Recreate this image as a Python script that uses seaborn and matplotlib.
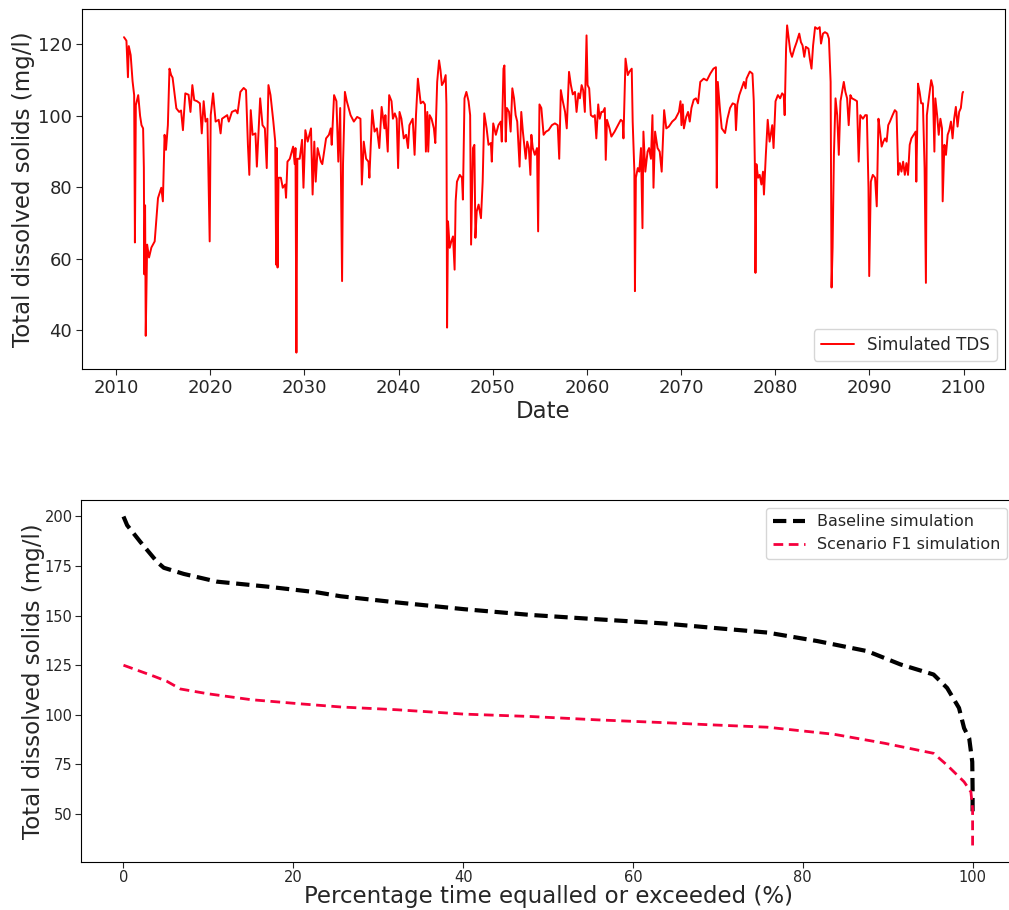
import numpy as np
import pandas as pd
import matplotlib
matplotlib.use("Agg")
import matplotlib.pyplot as plt
import seaborn as sns

# ---- simulated TDS time series (decimal year, mg/l) ----
years = [
    2010.84, 2011.1, 2011.26, 2011.35, 2011.55, 2011.75, 2011.92, 2012.0, 2012.1, 2012.35,
    2012.55, 2012.7, 2012.87, 2012.95, 2013.0, 2013.08, 2013.15, 2013.3, 2013.5, 2013.75,
    2014.1, 2014.45, 2014.8, 2014.97, 2015.15, 2015.3, 2015.5, 2015.67, 2015.85, 2016.0,
    2016.4, 2016.7, 2016.9, 2017.1, 2017.35, 2017.7, 2017.9, 2018.1, 2018.3, 2018.6,
    2018.9, 2019.1, 2019.3, 2019.5, 2019.7, 2019.94, 2020.05, 2020.3, 2020.57, 2020.9,
    2021.1, 2021.25, 2021.8, 2021.97, 2022.3, 2022.7, 2022.9, 2023.2, 2023.55, 2023.8,
    2024.0, 2024.15, 2024.3, 2024.5, 2024.8, 2024.95, 2025.3, 2025.55, 2025.8, 2026.0,
    2026.18, 2026.4, 2026.7, 2026.9, 2027.0, 2027.07, 2027.15, 2027.25, 2027.5, 2027.7,
    2027.95, 2028.05, 2028.2, 2028.45, 2028.8, 2028.97, 2029.05, 2029.15, 2029.25, 2029.5,
    2029.75, 2029.9, 2030.1, 2030.35, 2030.7, 2030.87, 2031.05, 2031.2, 2031.4, 2031.75,
    2031.9, 2032.3, 2032.6, 2032.8, 2032.9, 2033.15, 2033.4, 2033.6, 2033.8, 2034.0,
    2034.1, 2034.3, 2034.5, 2034.9, 2035.25, 2035.6, 2035.95, 2036.1, 2036.3, 2036.55,
    2036.8, 2036.9, 2037.2, 2037.45, 2037.7, 2037.95, 2038.2, 2038.5, 2038.6, 2038.85,
    2039.0, 2039.25, 2039.4, 2039.6, 2039.8, 2039.95, 2040.1, 2040.3, 2040.55, 2040.8,
    2041.0, 2041.15, 2041.5, 2041.7, 2041.85, 2042.05, 2042.35, 2042.6, 2042.8, 2042.9,
    2043.05, 2043.15, 2043.3, 2043.5, 2043.75, 2043.9, 2044.1, 2044.3, 2044.45, 2044.6,
    2044.8, 2045.0, 2045.08, 2045.15, 2045.25, 2045.43, 2045.6, 2045.78, 2045.95, 2046.06,
    2046.2, 2046.5, 2046.73, 2046.83, 2047.0, 2047.2, 2047.43, 2047.6, 2047.7, 2047.9,
    2048.05, 2048.16, 2048.3, 2048.5, 2048.75, 2048.93, 2049.1, 2049.35, 2049.55, 2049.8,
    2049.9, 2050.05, 2050.33, 2050.6, 2050.85, 2050.96, 2051.14, 2051.24, 2051.38, 2051.5,
    2051.73, 2051.9, 2052.08, 2052.26, 2052.43, 2052.6, 2052.85, 2053.03, 2053.2, 2053.5,
    2053.66, 2053.83, 2054.0, 2054.1, 2054.25, 2054.47, 2054.7, 2054.82, 2054.96, 2055.16,
    2055.4, 2055.66, 2055.93, 2056.28, 2056.6, 2056.9, 2057.06, 2057.23, 2057.44, 2057.68,
    2057.86, 2058.1, 2058.3, 2058.5, 2058.73, 2058.9, 2059.1, 2059.26, 2059.44, 2059.6,
    2059.78, 2059.96, 2060.07, 2060.24, 2060.42, 2060.66, 2060.84, 2061.0, 2061.2, 2061.36,
    2061.54, 2061.7, 2061.9, 2062.0, 2062.13, 2062.4, 2062.6, 2062.94, 2063.3, 2063.6,
    2063.8, 2063.88, 2064.1, 2064.34, 2064.5, 2064.76, 2064.86, 2065.04, 2065.1, 2065.2,
    2065.4, 2065.56, 2065.74, 2065.9, 2066.0, 2066.2, 2066.44, 2066.6, 2066.8, 2066.96,
    2067.07, 2067.24, 2067.5, 2067.73, 2067.94, 2068.2, 2068.43, 2068.7, 2069.06, 2069.4,
    2069.77, 2069.94, 2070.04, 2070.18, 2070.3, 2070.54, 2070.74, 2070.92, 2071.1, 2071.34,
    2071.58, 2071.8, 2072.04, 2072.4, 2072.74, 2073.1, 2073.44, 2073.7, 2073.79, 2073.9,
    2074.15, 2074.32, 2074.67, 2074.92, 2075.2, 2075.48, 2075.73, 2075.83, 2075.97, 2076.18,
    2076.43, 2076.67, 2076.85, 2076.95, 2077.13, 2077.3, 2077.58, 2077.72, 2077.83, 2077.9,
    2078.0, 2078.18, 2078.35, 2078.53, 2078.7, 2078.8, 2079.0, 2079.2, 2079.4, 2079.68,
    2079.82, 2080.03, 2080.28, 2080.52, 2080.73, 2080.9, 2081.0, 2081.15, 2081.26, 2081.43,
    2081.6, 2081.78, 2082.03, 2082.27, 2082.55, 2082.73, 2082.9, 2083.08, 2083.25, 2083.53,
    2083.67, 2083.85, 2084.02, 2084.23, 2084.48, 2084.72, 2084.86, 2085.07, 2085.28, 2085.53,
    2085.7, 2085.88, 2085.98, 2086.09, 2086.23, 2086.4, 2086.58, 2086.75, 2086.93, 2087.1,
    2087.28, 2087.45, 2087.63, 2087.8, 2087.98, 2088.15, 2088.44, 2088.68, 2088.86, 2089.03,
    2089.31, 2089.56, 2089.73, 2089.9, 2089.98, 2090.15, 2090.36, 2090.6, 2090.78, 2090.96,
    2091.13, 2091.3, 2091.48, 2091.66, 2091.83, 2092.0, 2092.18, 2092.46, 2092.7, 2092.88,
    2093.06, 2093.23, 2093.4, 2093.58, 2093.76, 2093.93, 2094.1, 2094.28, 2094.46, 2094.7,
    2094.91, 2094.98, 2095.16, 2095.33, 2095.5, 2095.68, 2095.86, 2096.0, 2096.1, 2096.31,
    2096.56, 2096.73, 2096.9, 2097.0, 2097.19, 2097.36, 2097.54, 2097.71, 2097.78, 2097.96,
    2098.13, 2098.31, 2098.48, 2098.66, 2098.83, 2099.0, 2099.18, 2099.36, 2099.53, 2099.71,
    2099.88, 2099.95,
]
tds = [
    122.0, 121.0, 110.8, 119.5, 117.0, 109.7, 105.8, 64.6, 103.0, 105.8,
    100.0, 97.4, 96.5, 85.5, 55.7, 75.0, 38.5, 64.0, 60.4, 63.2,
    64.9, 77.0, 79.9, 76.1, 94.7, 90.5, 97.4, 113.2, 111.4, 110.7,
    102.1, 101.1, 101.5, 96.0, 106.3, 105.9, 101.1, 108.6, 104.4, 104.1,
    103.5, 95.1, 104.1, 98.4, 99.2, 64.9, 100.2, 106.3, 98.4, 98.9,
    95.1, 99.2, 100.2, 98.4, 101.1, 101.6, 100.7, 106.7, 107.8, 107.2,
    91.9, 83.5, 101.6, 94.7, 95.1, 85.8, 104.9, 97.4, 96.5, 85.4,
    108.6, 105.8, 98.4, 92.8, 58.4, 91.0, 57.6, 82.7, 82.7, 79.9,
    80.8, 77.1, 87.2, 88.0, 91.4, 86.5, 91.0, 33.8, 88.0, 88.0,
    93.3, 79.9, 96.0, 92.8, 96.5, 78.0, 92.8, 81.6, 91.0, 87.2,
    86.5, 93.7, 94.7, 96.5, 91.9, 105.8, 104.1, 87.2, 102.2, 53.8,
    86.5, 106.7, 104.1, 100.2, 98.4, 99.7, 99.2, 80.8, 92.8, 88.0,
    87.2, 82.7, 101.6, 95.6, 96.5, 91.0, 102.5, 96.5, 100.2, 90.0,
    105.8, 104.1, 99.2, 100.7, 99.2, 85.4, 101.1, 99.2, 93.7, 94.7,
    91.0, 97.4, 99.2, 89.1, 100.2, 110.4, 103.5, 104.0, 103.2, 90.0,
    101.1, 90.0, 100.2, 99.2, 96.5, 92.4, 109.5, 115.5, 112.8, 108.6,
    109.5, 111.4, 103.2, 40.8, 70.5, 63.1, 64.9, 66.3, 57.0, 76.1,
    81.6, 83.5, 82.7, 76.6, 104.9, 106.7, 104.1, 100.2, 64.0, 91.0,
    91.9, 65.9, 73.3, 75.2, 71.4, 81.6, 100.7, 96.5, 91.9, 92.4,
    87.2, 97.9, 94.7, 97.4, 98.4, 92.8, 113.2, 114.1, 92.8, 102.2,
    101.1, 95.6, 107.7, 104.9, 100.2, 98.4, 85.8, 101.1, 95.6, 88.0,
    92.8, 91.0, 83.5, 94.7, 91.0, 89.1, 91.0, 67.7, 103.2, 102.2,
    94.7, 95.6, 96.0, 97.4, 97.9, 97.4, 88.0, 107.2, 104.1, 101.1,
    96.5, 112.3, 108.6, 106.0, 106.7, 101.1, 106.3, 104.9, 108.6, 107.2,
    101.1, 122.5, 108.6, 107.7, 100.2, 99.7, 100.2, 93.7, 103.2, 99.2,
    101.1, 101.1, 102.2, 87.7, 98.9, 96.5, 94.2, 95.6, 97.4, 98.9,
    98.4, 93.7, 116.0, 111.4, 112.3, 113.2, 98.4, 84.4, 51.0, 82.7,
    85.4, 84.4, 91.0, 68.6, 95.6, 84.4, 90.0, 91.0, 88.0, 100.2,
    79.9, 95.6, 91.0, 90.0, 84.4, 101.6, 96.5, 97.0, 98.4, 99.2,
    101.1, 104.1, 97.4, 103.2, 96.5, 99.7, 101.1, 98.4, 102.2, 104.5,
    104.9, 103.5, 109.5, 110.4, 109.9, 111.8, 113.2, 113.6, 79.9, 109.5,
    101.1, 96.5, 95.2, 99.2, 102.2, 103.5, 103.2, 96.0, 103.2, 105.8,
    107.7, 109.5, 107.7, 110.4, 111.4, 112.4, 111.8, 104.1, 87.2, 56.1,
    86.5, 82.7, 83.5, 80.8, 84.4, 78.0, 89.1, 98.9, 92.8, 97.4,
    91.0, 104.1, 105.8, 104.9, 106.3, 105.8, 100.2, 118.8, 125.3, 121.6,
    118.0, 116.5, 118.8, 120.6, 123.0, 120.6, 119.7, 116.5, 119.3, 118.8,
    116.0, 113.2, 119.7, 124.8, 124.3, 124.8, 120.2, 123.0, 123.4, 123.0,
    121.6, 109.5, 52.0, 63.1, 89.1, 104.9, 100.2, 89.1, 104.1, 106.7,
    109.5, 106.7, 104.9, 97.4, 105.8, 104.9, 104.5, 104.1, 87.2, 100.2,
    99.2, 100.2, 100.2, 79.9, 55.2, 81.6, 83.5, 82.7, 74.7, 99.2,
    95.6, 91.4, 92.8, 93.7, 92.8, 97.4, 98.4, 100.2, 101.6, 101.1,
    83.5, 86.8, 84.4, 87.2, 83.5, 86.8, 83.5, 91.9, 93.7, 94.7,
    95.6, 81.6, 109.0, 106.7, 103.5, 103.5, 85.4, 53.3, 100.2, 104.9,
    110.0, 108.1, 90.0, 104.9, 100.2, 94.7, 99.2, 96.5, 76.1, 91.9,
    89.1, 94.7, 96.0, 98.4, 93.7, 99.2, 102.5, 97.0, 101.1, 102.2,
    106.3, 106.7,
]

# ---- duration curves (percent of time equalled or exceeded, mg/l) ----
baseline_pct = [0.0, 0.43, 2.0, 3.97, 4.75, 7.1, 11.0, 16.9, 22.8, 25.6, 32.2, 40.1,
                47.9, 55.8, 63.6, 69.1, 75.8, 81.7, 87.6, 91.5, 95.4, 97.0, 98.4,
                99.0, 99.6, 99.96, 100.0, 100.0]
baseline_tds = [200.0, 195.6, 187.1, 177.0, 174.1, 171.0, 167.1, 164.6, 161.7, 159.7,
                156.6, 153.2, 150.3, 148.1, 146.0, 143.9, 141.4, 137.1, 132.0, 125.3,
                120.2, 113.4, 103.3, 93.1, 88.0, 76.1, 62.6, 49.0]
scenario_pct = [0.0, 3.6, 5.1, 6.7, 9.9, 15.0, 20.8, 25.6, 32.2, 40.1, 47.9, 55.8,
                63.6, 69.1, 75.8, 83.7, 89.6, 95.4, 97.0, 99.0, 99.8, 100.0, 100.0]
scenario_tds = [124.9, 119.3, 116.8, 112.9, 110.5, 107.5, 105.4, 103.8, 102.4, 100.2,
                99.0, 97.3, 95.9, 94.8, 93.6, 90.0, 85.5, 80.4, 74.4, 66.0, 60.9,
                52.4, 33.8]

sns.set_style("ticks")
plt.rcParams["font.family"] = ["DejaVu Sans"]
plt.rcParams["axes.edgecolor"] = "black"

fig = plt.figure(figsize=(10.09, 9.10), dpi=100)

# ---- upper panel: time series ----
ax1 = fig.add_axes([0.0813, 0.5945, 0.9148, 0.3956])
ts = pd.DataFrame({"Date": years, "TDS": tds})
sns.lineplot(data=ts, x="Date", y="TDS", ax=ax1, color="#ff0000", linewidth=1.4,
             estimator=None, sort=False, label="Simulated TDS")
ax1.set_xticks(np.arange(2010, 2101, 10))
ax1.set_yticks(np.arange(40, 121, 20))
ax1.tick_params(labelsize=13, length=4, pad=3)
ax1.set_xlabel("Date", fontsize=16.5, labelpad=2)
ax1.set_ylabel("Total dissolved solids (mg/l)", fontsize=16.5, labelpad=2)
ax1.legend(loc="lower right", fontsize=12)

# ---- lower panel: duration curves ----
ax2 = fig.add_axes([0.0803, 0.0527, 0.9257, 0.3978])
base = pd.DataFrame({"pct": baseline_pct, "tds": baseline_tds})
scen = pd.DataFrame({"pct": scenario_pct, "tds": scenario_tds})
sns.lineplot(data=base, x="pct", y="tds", ax=ax2, color="black", linewidth=3,
             linestyle=(0, (3.2, 1.6)), estimator=None, sort=False,
             label="Baseline simulation")
sns.lineplot(data=scen, x="pct", y="tds", ax=ax2, color="#f5003d", linewidth=2,
             linestyle=(0, (3.5, 2)), estimator=None, sort=False,
             label="Scenario F1 simulation")
ax2.set_xlim(-5, 105)
ax2.set_xticks(np.arange(0, 101, 20))
ax2.set_yticks(np.arange(50, 201, 25))
ax2.tick_params(labelsize=10.5, length=4, pad=2)
ax2.set_xlabel("Percentage time equalled or exceeded (%)", fontsize=16.5, labelpad=0)
ax2.set_ylabel("Total dissolved solids (mg/l)", fontsize=16.5, labelpad=0)
ax2.legend(loc="upper right", fontsize=11.5)

fig.savefig("out.png", dpi=100)
